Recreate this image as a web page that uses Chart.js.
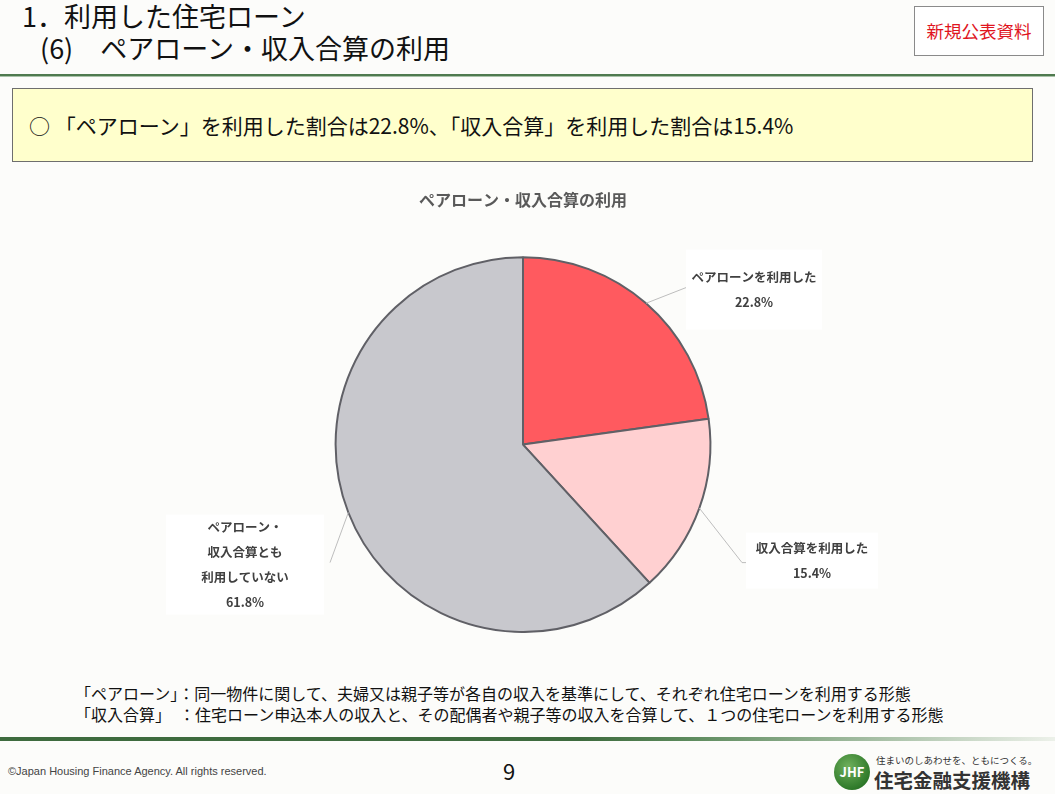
<!DOCTYPE html>
<html lang="ja">
<head>
<meta charset="utf-8">
<script src="https://cdn.jsdelivr.net/npm/chart.js@4/dist/chart.umd.min.js"></script>
<style>
	html, body { margin: 0; padding: 0; }
	body {
		width: 1055px; height: 794px; position: relative; overflow: hidden;
		background: #fcfcfa; font-family: "Noto Sans CJK JP", "Noto Sans", sans-serif; color: #111;
	}
	.abs { position: absolute; white-space: nowrap; }
	#h1 { left: 22px; top: -1px; font-size: 27px; line-height: 34px; }
	#h2 { left: 40px; top: 31px; font-size: 27px; line-height: 34px; }
	#badge {
		left: 914px; top: 6px; width: 128px; height: 48px; border: 1px solid #8a8a8a; background: #fff;
		color: #e0141e; font-size: 17.5px; line-height: 48px; text-align: center;
	}
	#rule1 { left: 0; top: 74px; width: 1055px; height: 2px; background: #4f7a4f; }
	#rule1b { left: 0; top: 76px; width: 1055px; height: 1px; background: #a9c2a9; }
	#box {
		left: 12px; top: 88px; width: 1019px; height: 72px; background: #ffffcc; border: 1px solid #6e6e6e;
		font-size: 21px; line-height: 72px; box-sizing: content-box;
	}
	#box span { margin-left: 16px; }
	#chartWrap { left: 148px; top: 181px; width: 750px; height: 452px; }
	.note { left: 75px; font-size: 16px; line-height: 20px; }
	#rule2 { left: 0; top: 737px; width: 1055px; height: 4px; background: linear-gradient(to right, #3e6b3e 0%, #3e6b3e 55%, #5c8a5c 65%, rgba(200,215,195,0.3) 100%); }
	#copy { left: 8px; top: 765px; font-size: 11px; color: #444; font-family: "Liberation Sans", sans-serif; }
	#page { left: 503px; top: 754px; font-size: 22px; color: #111; }
	#logo { left: 834px; top: 754px; width: 36px; height: 36px; border-radius: 50%; background: radial-gradient(circle at 40% 35%, #6fb05c, #2f7a2a 70%, #1f5c1c); color: #fff; font-size: 13px; font-weight: bold; text-align: center; line-height: 36px; }
	#tag { left: 876px; top: 753px; font-size: 9.5px; color: #333; }
	#org { left: 874px; top: 765px; font-size: 19.5px; font-weight: bold; color: #333; }
</style>
</head>
<body>
<div class="abs" id="h1">1．利用した住宅ローン</div>
<div class="abs" id="h2">(6)　ペアローン・収入合算の利用</div>
<div class="abs" id="badge">新規公表資料</div>
<div class="abs" id="rule1"></div>
<div class="abs" id="rule1b"></div>
<div class="abs" id="box"><span>○ 「ペアローン」を利用した割合は22.8%、「収入合算」を利用した割合は15.4%</span></div>
<div class="abs" id="chartWrap"><canvas id="chart"></canvas></div>
<div class="abs note" style="top:683px">「ペアローン」：同一物件に関して、夫婦又は親子等が各自の収入を基準にして、それぞれ住宅ローンを利用する形態</div>
<div class="abs note" style="top:704px">「収入合算」　：住宅ローン申込本人の収入と、その配偶者や親子等の収入を合算して、１つの住宅ローンを利用する形態</div>
<div class="abs" id="rule2"></div>
<div class="abs" id="copy">©Japan Housing Finance Agency. All rights reserved.</div>
<div class="abs" id="page">9</div>
<div class="abs" id="logo">JHF</div>
<div class="abs" id="tag">住まいのしあわせを、ともにつくる。</div>
<div class="abs" id="org">住宅金融支援機構</div>

<script>
// chart data
const categories = ["ペアローンを利用した", "収入合算を利用した", "ペアローン・収入合算とも利用していない"];
const labelLines = [["ペアローンを利用した"], ["収入合算を利用した"], ["ペアローン・", "収入合算とも", "利用していない"]];
const shares = [22.8, 15.4, 61.8];
const sliceColors = ["#ff5a5f", "#ffd0d1", "#c8c8cd"];

// label box placement relative to pie centre: [dx, dy, width, height]
const labelBoxes = [
	[163, -195, 136, 80],
	[223, 88, 132, 56],
	[-357, 70, 158, 100],
];

const calloutPlugin = {
	id: "callouts",
	afterDatasetsDraw(chart) {
		const ctx = chart.ctx;
		const meta = chart.getDatasetMeta(0);
		meta.data.forEach((arc, i) => {
			const { x, y, startAngle, endAngle, outerRadius } = arc.getProps(["x", "y", "startAngle", "endAngle", "outerRadius"], true);
			const mid = (startAngle + endAngle) / 2;
			const ax = x + Math.cos(mid) * outerRadius;
			const ay = y + Math.sin(mid) * outerRadius;
			const [dx, dy, w, h] = labelBoxes[i];
			const bx = x + dx, by = y + dy;
			// leader line
			let lx, ly;
			if (dx > 0) { lx = bx; ly = by + h / 2 + (i === 1 ? 2 : -2); }
			else { lx = bx + w + 6; ly = by + h / 2 - 2; }
			ctx.save();
			ctx.strokeStyle = "#bdbdbd";
			ctx.lineWidth = 1;
			ctx.beginPath();
			ctx.moveTo(ax, ay);
			if (i === 1) { ctx.lineTo(lx - 4, ly); ctx.lineTo(lx, ly); }
			else ctx.lineTo(lx, ly);
			ctx.stroke();
			// box
			ctx.fillStyle = "#ffffff";
			ctx.fillRect(bx, by, w, h);
			// text
			ctx.fillStyle = "#404040";
			ctx.font = "bold 12.5px 'Noto Sans CJK JP', sans-serif";
			ctx.textAlign = "center";
			ctx.textBaseline = "middle";
			const lines = [...labelLines[i], shares[i].toFixed(1) + "%"];
			const step = 25;
			const top = by + h / 2 - ((lines.length - 1) * step) / 2;
			lines.forEach((t, k) => ctx.fillText(t, bx + w / 2, top + k * step));
			ctx.restore();
		});
	},
};

const ctx = document.getElementById("chart").getContext("2d");
new Chart(ctx, {
	type: "pie",
	data: {
		labels: categories,
		datasets: [{
			data: shares,
			backgroundColor: sliceColors,
			borderColor: "#606066",
			borderWidth: 2,
		}],
	},
	options: {
		responsive: true,
		maintainAspectRatio: false,
		animation: false,
		layout: { padding: 0 },
		plugins: {
			legend: { display: false },
			tooltip: { enabled: false },
			title: {
				display: true,
				text: "ペアローン・収入合算の利用",
				color: "#595959",
				font: { size: 16, weight: "bold", family: "'Noto Sans CJK JP', sans-serif" },
				padding: { top: 9, bottom: 47 },
			},
		},
	},
	plugins: [calloutPlugin],
});
</script>
</body>
</html>
